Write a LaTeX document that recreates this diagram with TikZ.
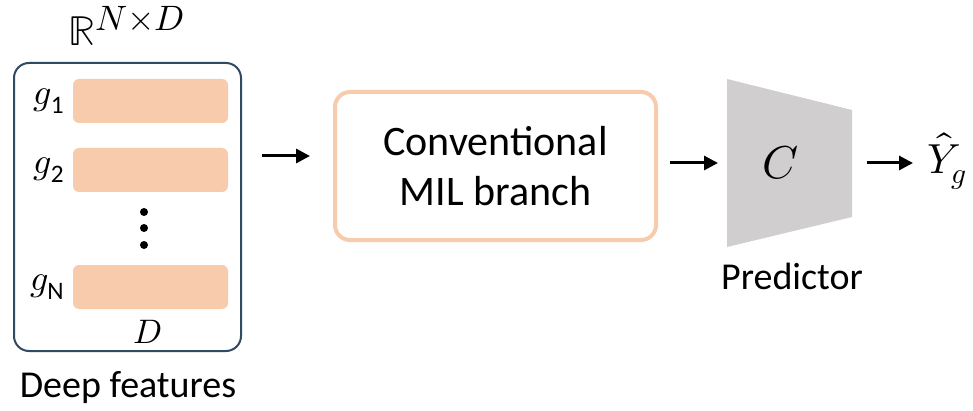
\documentclass[tikz,border=0pt]{standalone}
\usepackage{amsmath}
\usepackage{fontspec}
\usepackage{unicode-math}
\setmainfont{Carlito}
\setmathfont{Latin Modern Math}
\usetikzlibrary{shapes,arrows.meta,positioning}

\definecolor{peach}{HTML}{F8CBAD}
\definecolor{slate}{HTML}{2F4A63}
\definecolor{predgray}{HTML}{D0CECE}

\tikzset{
  featbar/.style={fill=peach, rounded corners=3pt, minimum width=77.5pt, minimum height=22pt, inner sep=0pt},
  flow/.style={line width=1.5pt, -{Triangle[length=7pt,width=7pt]}},
  txt/.style={font=\fontsize{19}{22}\selectfont, inner sep=0pt},
  mathlbl/.style={font=\fontsize{18}{20}\selectfont, inner sep=0pt}
}

\begin{document}
\begin{tikzpicture}[x=0.5pt, y=-0.5pt]
\useasboundingbox (0,0) rectangle (973,411);

% deep features
\node[draw=slate, line width=1pt, rounded corners=7.5pt, minimum width=113.5pt, minimum height=144pt] (feat) at (127.5,207) {};
\node[mathlbl, font=\fontsize{21}{22}\selectfont] (space) at (127,26) {$\mathbb{R}^{\scalebox{1.2}{$\scriptstyle N\times D$}}$};
\node[featbar] (bar1) at (150.5,101) {};
\node[featbar] (bar2) at (150.5,170) {};
\node[featbar] (barN) at (150.5,287) {};
\node[mathlbl, anchor=east] (g1) at (65,101) {$g_{\text{1}}$};
\node[mathlbl, anchor=east] (g2) at (65,170) {$g_{\text{2}}$};
\node[mathlbl, anchor=east] (gN) at (65,287) {$g_{\text{N}}$};
\foreach \y in {212,228,245}
  \fill (144,\y) circle (2pt);
\node[mathlbl, font=\fontsize{17}{20}\selectfont] (dim) at (148,332) {$D$};
\node[txt] (featlbl) at (128,388) {Deep features};

% MIL branch
\node[draw=peach, line width=2pt, rounded corners=7.5pt, minimum width=160.5pt, minimum height=74pt,
      align=center, font=\fontsize{21}{25}\selectfont] (mil) at (495.5,166) {Conventional\\MIL branch};

% predictor
\fill[predgray] (727,79) -- (852,110) -- (852,217) -- (727,247) -- cycle;
\node[mathlbl, font=\fontsize{23}{26}\selectfont] (pred) at (781,163) {$C$};
\node[txt] (predlbl) at (792,276) {Predictor};
\node[mathlbl, font=\fontsize{21}{24}\selectfont, inner xsep=7pt, anchor=west] (out) at (913,161) {$\hat{Y}_g$};

% connectors
\coordinate (in1) at (262,156);
\coordinate (in1e) at (310,156);
\coordinate (in2) at (670,163);
\coordinate (in2e) at (718,163);
\coordinate (in3) at (867,163);
\draw[flow] (in1) -- (in1e);
\draw[flow] (in2) -- (in2e);
\draw[flow] (in3) -- (in3 -| out.west);
\end{tikzpicture}
\end{document}
